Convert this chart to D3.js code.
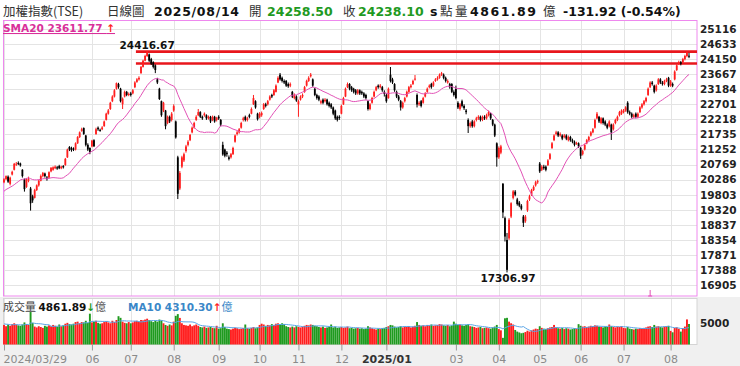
<!DOCTYPE html>
<html>
<head>
<meta charset="utf-8">
<script src="https://cdn.jsdelivr.net/npm/d3@7"></script>
<style>
html, body { margin: 0; padding: 0; background: #fff; }
svg { display: block; font-family: "DejaVu Sans", Verdana, sans-serif; }
</style>
</head>
<body>
<script>
// 加權指數 日K 2024/03/29 ~ 2025/08/14 (每月一列)
const opens = [
  20200,
  20300,20380,20150,20450,20600,20780,20820,20800,20600,20300,20050,20250,20000,19750,19700,19950,20100,20250,20400,20480,
  20350,20350,20550,20600,20650,20680,20720,20650,20720,20750,21000,21330,21300,21280,21250,21450,21650,21850,21940,21700,21400,21300,
  21350,21550,21750,21950,21880,21900,22000,22200,22400,22550,22800,22950,23200,23350,23200,22700,22950,23100,23000,
  23050,23050,23250,23420,23500,23700,23900,24100,24250,24300,24150,24050,23950,23500,23200,22800,22500,22500,22100,22300,22200,
  22500,22150,21000,20000,20700,20900,21200,21400,21550,21800,21950,22200,22350,22450,22300,22350,22350,22250,22300,22200,22300,22200,
  22300,22200,21400,21250,21150,21000,21000,21100,21500,21750,21800,21950,22200,22300,22200,22350,22400,22700,22800,22400,
  22300,22350,22550,22700,22700,22850,23000,23000,23100,23400,23650,23550,23450,23450,23350,23300,23100,22900,22950,
  22700,22850,22950,23100,23300,23450,23600,23500,23200,23000,22950,22750,22850,22800,22850,22750,22700,22600,22500,22300,22300,
  22400,22700,22950,23250,23350,23250,23200,23150,23050,23150,23100,23050,23000,22800,22550,22750,22950,23150,23300,23250,23250,23100,
  23000,22900,23650,23500,23350,23100,22950,22800,22600,22800,22950,23100,23250,23350,23500,
  23000,22700,22800,22750,22950,23100,23250,23350,23300,23450,23500,23550,23650,23650,23550,23400,23350,23350,23100,
  23200,22750,22550,22800,22650,22500,22200,22000,22150,22000,22200,22250,22300,22200,22300,22250,22350,22400,22200,22050,21450,
  21000,21150,20150,19050,18350,18400,19100,19700,19900,19650,19550,19450,19100,18950,19300,19650,19800,19950,20100,20200,
  20800,20600,20700,20700,20750,20950,21300,21550,21750,21800,21700,21700,21650,21700,21550,21650,21550,21500,21450,21450,
  21300,21100,21250,21450,21550,21700,21800,21950,22250,22300,22100,22250,22150,22050,22000,22050,21900,22100,22200,22350,22400,
  22450,22500,22750,22450,22400,22300,22400,22300,22450,22600,22700,22800,23000,23250,23400,23300,23150,23350,23500,23400,23350,23450,23550,
  23300,23350,23500,23800,24000,24050,24050,24150,24250,24258.50
]
const highs = [
  20330,
  20420,20420,20380,20570,20820,20850,20870,20830,20620,20320,20330,20380,20050,19800,19990,20130,20280,20450,20530,20510,
  20400,20550,20690,20710,20740,20720,20760,20730,20750,20980,21280,21360,21340,21320,21480,21680,21830,21950,21960,21720,21450,21320,
  21560,21580,21950,21990,21920,22000,22180,22430,22550,22780,22990,23190,23400,23390,23230,22920,23140,23130,23080,
  23100,23190,23440,23540,23600,23930,24130,24290,24416.67,24330,24190,24080,23980,23550,23230,22820,22780,22520,22340,22340,22450,
  22700,22180,21050,20560,21050,21150,21400,21550,21750,21990,22140,22350,22550,22480,22340,22440,22380,22340,22330,22340,22330,22300,
  22350,22230,21500,21280,21200,21060,21140,21340,21730,21850,21940,22140,22300,22340,22300,22400,22600,23000,22830,22430,
  22450,22470,22740,22750,22840,22990,23040,23190,23340,23600,23705,23590,23500,23480,23400,23400,23130,23050,22990,
  22850,22990,23050,23290,23490,23600,23705,23530,23230,23040,22990,22850,22890,22900,22880,22790,22740,22630,22530,22340,22350,
  22690,22940,23240,23400,23380,23290,23230,23190,23190,23180,23140,23090,23040,22830,22740,22940,23140,23290,23340,23350,23290,23150,
  23050,23240,23897,23550,23380,23140,23000,22840,22790,22940,23140,23290,23350,23490,23640,
  23050,22800,22840,22940,23090,23240,23340,23390,23440,23540,23600,23690,23740,23690,23590,23500,23390,23380,23150,
  23300,22800,22740,22850,22700,22550,22250,22150,22200,22190,22300,22350,22340,22340,22350,22400,22500,22430,22230,22080,21480,
  21350,21400,20177,19100,18574,19050,19560,19950,19950,19700,19600,19500,19150,19150,19640,19800,19990,20100,20250,20280,
  20850,20750,20760,20740,20940,21140,21490,21740,21850,21840,21800,21740,21750,21740,21700,21690,21600,21540,21500,21480,
  21330,21240,21440,21590,21690,21840,21940,22240,22454,22330,22290,22280,22190,22090,22190,22080,22090,22240,22340,22490,22540,
  22550,22640,22800,22500,22440,22400,22440,22440,22640,22740,22840,22940,23240,23440,23450,23330,23340,23540,23540,23450,23490,23550,23580,
  23480,23400,23790,23990,24100,24090,24190,24290,24400,24350
]
const lows = [
  20170,
  20270,20180,20100,20420,20580,20720,20750,20700,20350,19900,20020,20200,19291,19540,19680,19920,20060,20230,20360,20350,
  20250,20320,20520,20570,20620,20600,20620,20620,20640,20730,20980,21200,21180,21200,21220,21430,21620,21820,21720,21350,21200,21100,
  21320,21330,21720,21850,21820,21870,21980,22180,22370,22520,22770,22920,23170,23200,22760,22550,22920,22960,22960,
  22950,23020,23220,23390,23460,23680,23880,24080,24220,24060,23960,23850,23700,23350,22840,22300,22450,21900,22060,22100,22150,
  22460,21600,19662,19950,20650,20850,21150,21350,21520,21770,21920,22170,22320,22260,22200,22300,22200,22210,22100,22160,22110,22150,
  22200,22000,21050,21000,21020,20900,20960,21080,21470,21700,21760,21920,22150,22150,22150,22250,22380,22680,22560,22180,
  22250,22300,22520,22600,22660,22820,22900,22970,23080,23380,23460,23400,23350,23260,23230,23250,22900,22860,22780,
  22300,22820,22900,23070,23270,23420,23560,23260,22960,22850,22800,22700,22700,22760,22660,22600,22550,22350,22200,22150,22200,
  22380,22680,22930,23220,23150,23100,23050,23000,23010,23000,23000,22900,22850,22500,22510,22720,22920,23120,23200,23210,23100,22950,
  22750,22880,23400,23350,23100,22900,22800,22500,22560,22760,22920,23070,23210,23320,23460,
  22600,22650,22600,22720,22920,23070,23210,23200,23260,23420,23460,23520,23610,23500,23400,23360,23200,23060,22950,
  22860,22550,22500,22600,22520,22380,21780,21950,21950,21960,22150,22200,22150,22160,22200,22210,22310,22200,22000,21650,20700,
  20950,21100,19050,18300,17306.97,18350,19050,19650,19750,19450,19400,19300,18766,18900,19250,19600,19760,19920,20060,20150,
  20500,20560,20600,20550,20720,20920,21270,21520,21700,21650,21660,21550,21610,21550,21510,21500,21450,21350,21400,21300,
  20950,21060,21220,21420,21520,21670,21770,21920,22220,22100,22060,22050,22000,21900,21960,21556,21860,22060,22160,22310,22360,
  22410,22460,22400,22350,22250,22260,22250,22260,22420,22560,22660,22760,22970,23220,23300,23050,23110,23320,23350,23300,23310,23410,23250,
  23260,23250,23470,23770,23960,23950,24010,24110,24210,24180
]
const closes = [
  20294,
  20396,20220,20347,20535,20791,20796,20784,20742,20397,19980,20300,20300,19527,19620,19950,20100,20250,20400,20500,20396,
  20300,20523,20660,20680,20700,20640,20650,20700,20680,20950,21250,21250,21230,21250,21450,21650,21800,21900,21750,21400,21250,21174,
  21536,21356,21900,21900,21858,21960,22150,22400,22504,22750,22950,23150,23380,23253,22800,22880,23100,23000,23032,
  23000,23150,23400,23500,23550,23900,24100,24250,24390,24100,24000,23900,23800,23400,22870,22350,22750,22000,22300,22150,22400,
  22642,21638,19830,20501,21000,21100,21350,21500,21719,21950,22100,22300,22450,22300,22250,22400,22250,22300,22150,22300,22150,22268,
  22250,22050,21092,21050,21100,20950,21100,21300,21700,21800,21900,22100,22250,22200,22250,22300,22550,22900,22600,22224,
  22400,22420,22700,22650,22800,22950,22950,23150,23300,23550,23500,23450,23400,23300,23280,23348,22950,23000,22820,
  22800,22950,23000,23250,23450,23550,23650,23300,23000,22900,22850,22800,22750,22850,22700,22650,22600,22400,22250,22200,22262,
  22650,22900,23200,23350,23200,23150,23100,23050,23150,23050,23050,22950,22900,22550,22700,22900,23100,23250,23250,23300,23150,23035,
  22800,23200,23450,23400,23150,22950,22850,22600,22750,22900,23100,23250,23300,23450,23525,
  22694,22750,22650,22900,23050,23200,23300,23250,23400,23500,23550,23650,23700,23550,23450,23450,23250,23100,23000,
  22900,22600,22700,22650,22577,22450,22000,22100,22000,22150,22250,22300,22200,22300,22250,22350,22450,22250,22050,21700,21000,
  21300,21350,19232,18459,17391,19000,19528,19908,19800,19500,19450,19350,18900,19100,19600,19750,19950,20050,20200,20235,
  20550,20700,20650,20600,20900,21100,21450,21700,21800,21700,21750,21600,21700,21600,21650,21550,21500,21400,21460,21350,
  21050,21200,21400,21550,21650,21800,21900,22200,22400,22150,22250,22100,22050,21950,22150,21800,22050,22200,22300,22450,22500,
  22500,22600,22450,22400,22300,22350,22300,22400,22600,22700,22800,22900,23200,23400,23350,23100,23300,23500,23400,23350,23450,23500,23300,
  23434,23300,23750,23950,24050,24000,24150,24250,24370.02,24238.10
]
// 成交量(億)
const volumes = [
  4730,
  4550,4790,4610,4840,4960,4790,4670,4610,4790,5080,4840,4730,6530,5020,4500,4380,4550,4440,4320,4610,
  4500,4670,4550,4730,4610,4500,4790,4550,4670,4900,5020,4840,4790,4900,5130,5190,4960,5130,5080,5310,5020,6300,
  5080,5190,5310,5020,4900,4960,5130,5250,5080,4960,5310,5130,5420,5950,5720,5190,5020,4960,5130,
  4960,5080,5250,5310,5190,5420,5370,5480,5600,5420,5250,5130,5310,5190,5480,5370,4960,4730,4610,4790,4670,
  5190,6000,6240,5710,4960,4730,4670,4610,4790,4550,4670,4790,4610,4440,4380,4500,4320,4380,4440,4320,4270,4610,
  4210,4270,4960,4440,4210,4150,4090,4210,4320,4270,4150,4210,4320,4790,4270,4210,4320,4440,4270,4380,
  4730,4900,4790,4610,4730,4670,4840,4730,4900,4960,4790,4960,4840,4550,4440,4380,4500,4380,4550,
  4440,4380,4500,4610,4730,4670,4790,4730,4610,4550,4440,4380,4500,4320,4380,4440,4790,4380,4500,4320,4380,
  4440,4320,4380,4500,4270,4320,4210,4270,4320,4210,4270,4150,4210,4550,4380,4270,4150,4090,4210,4150,4270,4320,
  4440,4550,4730,4670,4500,4380,4440,4550,4380,4500,4440,4550,4380,4500,4610,
  5130,4730,4610,4670,4550,4730,4670,4790,4610,4670,4730,4840,4790,4670,4610,4730,4550,4670,5190,
  4900,4730,4790,4670,4610,4730,4840,4550,4500,4440,4320,4380,4440,4270,4320,4380,4270,4210,4380,4500,4730,
  4150,3980,2930,5660,5720,5190,4960,4790,4030,3800,3680,3570,3630,3740,3920,3800,3970,4090,4210,4150,
  4550,4320,4210,4150,4270,4380,4440,4730,4380,4270,4210,4320,4150,4270,4210,4090,4150,4270,4210,4840,
  4610,4500,4550,4440,4500,4610,4550,4670,4610,4500,4440,4380,4500,4440,4790,4550,4440,4380,4500,4440,4550,
  4320,4270,4440,4210,4150,4090,4210,4150,4270,4210,4320,4380,4500,4550,4440,4730,4500,4550,4440,4380,4500,4550,4610,
  3900,3700,4300,4400,4200,3800,4300,4500,5500,4861.89
]
// 計算均線用的前期資料
const preCloses = [19300,19500,19600,19800,19900,19750,19850,19700,19950,19800,19900,19950,20050,20200,20150,20100,20100,20200,20150]
const preVolumes = [5100,4900,5300,4800,4700,5000,4600,4900,4800]

const lastDate = '2025/08/14'
const legendSMA20 = 23611.77
const legendMA10 = 4310.30
const levels = [24390, 24010]     // 紅色壓力線
const levelFrom = 65               // 壓力線起始日
const markDays = [316]

const tickAt = [0, 43, 62, 83, 105, 125, 144, 165, 187, 221, 242, 262, 282, 303, 326]
const tickLabels = ['2024/03/29','06','07','08','09','10','11','12','2025/01','03','04','05','06','07','08']
const yTicks = [25116,24633,24150,23667,23184,22701,22218,21735,21252,20769,20286,19803,19320,18837,18354,17871,17388,16905]
const volTicks = [5000]

const RED = '#ff1e1e', GREEN = '#1f9a1f', CJK = '"Noto Sans CJK TC", sans-serif'
const n = closes.length

const svg = d3.select('body').append('svg').attr('width', 740).attr('height', 366)

// 背景
svg.append('rect').attr('width', 740).attr('height', 366).attr('fill', '#fff')
svg.append('rect').attr('x', 0).attr('y', 297).attr('width', 740).attr('height', 69).attr('fill', '#f0f0f0')
svg.append('rect').attr('x', 3.5).attr('y', 298.5).attr('width', 693.5).attr('height', 46)
  .attr('fill', '#fff').attr('stroke', '#d4d4d4')

const x = d3.scaleLinear().domain([0, n - 1]).range([4, 689])
const y = d3.scaleLinear().domain([16905, 25116]).range([285, 29])
const yv = d3.scaleLinear().domain([2000, 5000]).range([344.5, 323])

// 格線
const grid = svg.append('g').attr('stroke', '#e4e4e4').attr('stroke-width', 1)
grid.selectAll('line.h').data(yTicks).join('line').attr('class', 'h')
  .attr('x1', 3).attr('x2', 697)
  .attr('y1', d => Math.round(y(d)) + 0.5).attr('y2', d => Math.round(y(d)) + 0.5)
grid.selectAll('line.v').data(tickAt).join('line').attr('class', 'v')
  .attr('x1', d => Math.round(x(d)) + 0.5).attr('x2', d => Math.round(x(d)) + 0.5)
  .attr('y1', 21).attr('y2', 296)
grid.selectAll('line.vv').data(tickAt).join('line').attr('class', 'vv')
  .attr('x1', d => Math.round(x(d)) + 0.5).attr('x2', d => Math.round(x(d)) + 0.5)
  .attr('y1', 299).attr('y2', 344)

// 主圖框
svg.append('rect').attr('x', 3.5).attr('y', 20.5).attr('width', 693.5).attr('height', 275.5)
  .attr('fill', 'none').attr('stroke', '#ee88ee')

// 右側座標
const yAxis = svg.append('g').attr('transform', 'translate(700,0)')
  .call(d3.axisRight(y).tickValues(yTicks).tickSize(0).tickPadding(0).tickFormat(d3.format('d')))
yAxis.select('.domain').remove()
yAxis.selectAll('text').attr('font-family', '"DejaVu Sans", sans-serif')
  .attr('font-size', 10.5).attr('font-weight', 'bold').attr('fill', '#222')

const vAxis = svg.append('g').attr('transform', 'translate(700,0)')
  .call(d3.axisRight(yv).tickValues(volTicks).tickSize(0).tickPadding(0).tickFormat(d3.format('d')))
vAxis.select('.domain').remove()
vAxis.selectAll('text').attr('font-family', '"DejaVu Sans", sans-serif')
  .attr('font-size', 10.5).attr('font-weight', 'bold').attr('fill', '#222')

// 下方日期
const xAxis = svg.append('g').attr('transform', 'translate(0,344.5)')
  .call(d3.axisBottom(x).tickValues(tickAt).tickSize(6).tickSizeOuter(0).tickPadding(5)
    .tickFormat((d, i) => tickLabels[i]))
xAxis.select('.domain').remove()
xAxis.selectAll('line').attr('stroke', '#999')
xAxis.selectAll('text')
  .attr('font-family', '"DejaVu Sans", sans-serif').attr('font-size', 11)
  .attr('fill', (d, i) => tickLabels[i].length === 7 ? '#333' : '#8a8a8a')
  .attr('font-weight', (d, i) => tickLabels[i].length === 7 ? 'bold' : 'normal')
  .attr('text-anchor', (d, i) => i === 0 ? 'start' : 'middle')
  .attr('x', (d, i) => i === 0 ? -1 : 0)

// 壓力線
svg.append('g').selectAll('line').data(levels).join('line')
  .attr('x1', x(levelFrom) - 1).attr('x2', 697)
  .attr('y1', d => y(d)).attr('y2', d => y(d))
  .attr('stroke', '#e8161c').attr('stroke-width', 2.6)

// K線
const days = d3.range(n)
const kg = svg.append('g')
kg.selectAll('line').data(days).join('line')
  .attr('x1', i => x(i)).attr('x2', i => x(i))
  .attr('y1', i => y(highs[i])).attr('y2', i => y(lows[i]))
  .attr('stroke', i => closes[i] >= opens[i] ? RED : '#000').attr('stroke-width', 1)
kg.selectAll('rect').data(days).join('rect')
  .attr('x', i => x(i) - 0.9).attr('width', 1.8)
  .attr('y', i => y(Math.max(opens[i], closes[i])))
  .attr('height', i => Math.max(1, Math.abs(y(opens[i]) - y(closes[i]))))
  .attr('fill', i => closes[i] >= opens[i] ? RED : '#000')

// SMA20
const allC = preCloses.concat(closes)
const sma = days.map(i => d3.mean(allC.slice(i, i + 20)))
svg.append('path').datum(days)
  .attr('d', d3.line().x(i => x(i)).y(i => y(sma[i])))
  .attr('fill', 'none').attr('stroke', '#e251b6').attr('stroke-width', 1)

// 標記
svg.append('g').selectAll('path').data(markDays).join('path')
  .attr('d', i => `M${x(i)},290V296M${x(i) - 2},296H${x(i) + 2}`)
  .attr('stroke', '#e251b6').attr('fill', 'none')

// 最高 / 最低
const hiIdx = d3.maxIndex(highs), loIdx = d3.minIndex(lows)
const annot = svg.append('g').attr('font-family', '"DejaVu Sans", sans-serif')
  .attr('font-size', 10.5).attr('font-weight', 'bold').attr('fill', '#111').attr('text-anchor', 'middle')
annot.append('text').attr('x', x(hiIdx)).attr('y', y(highs[hiIdx]) - 2).text(highs[hiIdx].toFixed(2))
annot.append('text').attr('x', x(loIdx) + 1).attr('y', y(lows[loIdx]) + 10).text(lows[loIdx].toFixed(2))

// 成交量
svg.append('g').selectAll('rect').data(days).join('rect')
  .attr('x', i => x(i) - 0.95).attr('width', 1.9)
  .attr('y', i => yv(volumes[i])).attr('height', i => 344.5 - yv(volumes[i]))
  .attr('fill', i => closes[i] >= opens[i] ? RED : GREEN)

const allV = preVolumes.concat(volumes)
const ma10 = days.map(i => d3.mean(allV.slice(i, i + 10)))
svg.append('path').datum(days)
  .attr('d', d3.line().x(i => x(i)).y(i => yv(ma10[i])))
  .attr('fill', 'none').attr('stroke', '#5aa5e6').attr('stroke-width', 1)

// 標題列
const last = n - 1
const chg = closes[last] - closes[last - 1]
const pct = chg / closes[last - 1] * 100
const head = [
  { t: '加權指數(TSE)', x: 3, f: CJK, w: 'normal', c: '#333', s: 12.5 },
  { t: '日線圖', x: 107, f: CJK, w: 'normal', c: '#333', s: 12.5 },
  { t: lastDate, x: 154, w: 'bold', c: '#111', s: 12.5, len: 85 },
  { t: '開', x: 249, f: CJK, w: 'normal', c: '#333', s: 12.5 },
  { t: opens[last].toFixed(2), x: 267, w: 'bold', c: GREEN, s: 12.5 },
  { t: '收', x: 343, f: CJK, w: 'normal', c: '#333', s: 12.5 },
  { t: closes[last].toFixed(2), x: 358, w: 'bold', c: GREEN, s: 12.5 },
  { t: 's', x: 430, w: 'bold', c: '#111', s: 12.5 },
  { t: '點', x: 440, f: CJK, w: 'normal', c: '#333', s: 12.5 },
  { t: '量', x: 455, f: CJK, w: 'normal', c: '#333', s: 12.5 },
  { t: volumes[last].toFixed(2), x: 470, w: 'bold', c: '#111', s: 12.5, len: 66 },
  { t: '億', x: 543, f: CJK, w: 'normal', c: '#333', s: 12.5 },
  { t: `${chg.toFixed(2)} (${pct.toFixed(2)}%)`, x: 563, w: 'bold', c: '#111', s: 12.5 }
]
svg.append('g').selectAll('text').data(head).join('text')
  .attr('x', d => d.x).attr('y', 16)
  .attr('font-family', d => d.f || '"DejaVu Sans", sans-serif')
  .attr('font-size', d => d.s).attr('font-weight', d => d.w).attr('fill', d => d.c)
  .attr('textLength', d => d.len || null).attr('lengthAdjust', 'spacing')
  .text(d => d.t)

// SMA 圖例
const sl = svg.append('text').attr('x', 3).attr('y', 32)
  .attr('font-size', 10.5).attr('font-weight', 'bold').attr('fill', '#d9309a')
  .attr('text-decoration', 'underline')
sl.append('tspan').text(`SMA20 ${legendSMA20.toFixed(2)} `)
sl.append('tspan').attr('fill', RED).text('↑')

// 成交量圖例
const vl = svg.append('text').attr('x', 3).attr('y', 311).attr('font-size', 10.5)
vl.append('tspan').attr('font-family', CJK).attr('fill', '#444').attr('font-size', 11).text('成交量 ')
vl.append('tspan').attr('font-weight', 'bold').attr('fill', '#111').text(volumes[last].toFixed(2))
vl.append('tspan').attr('font-weight', 'bold').attr('fill', GREEN).text('↓')
vl.append('tspan').attr('font-family', CJK).attr('fill', '#555').attr('font-size', 11).text('億')

const ml = svg.append('text').attr('x', 128).attr('y', 311).attr('font-size', 10.5)
ml.append('tspan').attr('font-weight', 'bold').attr('fill', '#3a87c8').text(`MA10 ${legendMA10.toFixed(2)}`)
ml.append('tspan').attr('font-weight', 'bold').attr('fill', RED).text('↑')
ml.append('tspan').attr('font-family', CJK).attr('fill', '#3a87c8').attr('font-size', 11).text('億')
</script>
</body>
</html>
